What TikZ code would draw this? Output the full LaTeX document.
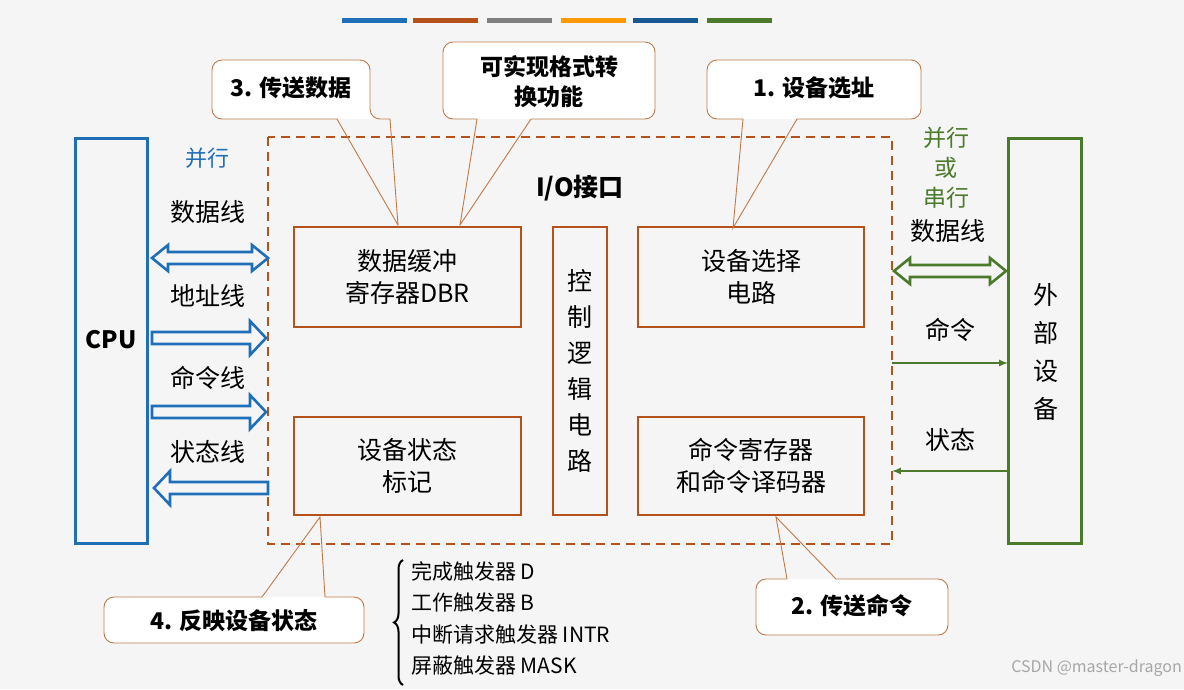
\documentclass[tikz,border=0pt]{standalone}
\usepackage{fontspec}
\setmainfont{Noto Sans CJK SC}
\usetikzlibrary{decorations.pathreplacing}
\definecolor{cblue}{HTML}{1F6FB8}
\definecolor{corange}{HTML}{B5521C}
\definecolor{cgreen}{HTML}{4A7A2A}
\definecolor{ctan}{HTML}{C07A4A}
\begin{document}
\begin{tikzpicture}[x=1pt,y=-1pt,
  box/.style={draw=corange,line width=2.5pt,fill=none},
  lbl/.style={font=\fontsize{25}{32}\selectfont,align=center,inner sep=0},
  clbl/.style={font=\fontsize{23}{27}\selectfont\bfseries,align=center,inner sep=0},
  call/.style={draw=ctan,line width=0.9pt,fill=white,rounded corners=10pt},
  tail/.style={draw=ctan,line width=0.9pt},
  fat/.style={line width=2.6pt,line join=miter}]
\useasboundingbox[fill=white!96!black] (0,0) rectangle (1184,689);
% colour bars
\foreach \a/\c in {342/cblue,413/corange,487/gray,561/orange!80!yellow,633/cblue!80!black,707/cgreen}
  \fill[\c] (\a,18) rectangle (\a+65,23);
% dashed interface
\draw[corange,line width=2pt,dash pattern=on 9pt off 6pt] (268,137) rectangle (892,544);
\node[lbl,font=\fontsize{25}{30}\selectfont\bfseries] (io) at (580,188) {I/O接口};
% CPU
\draw[cblue,line width=3pt] (75,138) rectangle (147,543);
\node[lbl,font=\fontsize{24}{28}\selectfont\bfseries] (cpu) at (111,340) {CPU};
\node[lbl,text=cblue,font=\fontsize{22}{26}\selectfont] (bx) at (207,158) {并行};
\node[lbl] (sjx) at (208,212) {数据线};
\node[lbl] (dzx) at (208,296) {地址线};
\node[lbl] (mlx) at (208,378) {命令线};
\node[lbl] (ztx) at (208,452) {状态线};
% fat arrows
\draw[fat,cblue] (152,258) -- (168,245) -- (168,252) -- (252,252) -- (252,245) -- (268,258) -- (252,271) -- (252,264) -- (168,264) -- (168,271) -- cycle;
\draw[fat,cblue] (152,332) -- (250,332) -- (250,321) -- (266,338) -- (250,355) -- (250,344) -- (152,344) -- cycle;
\draw[fat,cblue] (152,406) -- (250,406) -- (250,395) -- (266,412) -- (250,429) -- (250,418) -- (152,418) -- cycle;
\draw[fat,cblue] (268,482) -- (170,482) -- (170,471) -- (154,488) -- (170,505) -- (170,494) -- (268,494) -- cycle;
\draw[fat,cgreen] (894,271) -- (910,258) -- (910,265) -- (990,265) -- (990,258) -- (1006,271) -- (990,284) -- (990,277) -- (910,277) -- (910,284) -- cycle;
% inner boxes
\draw[box] (294,227) rectangle (521,327);
\node[lbl] (dbr) at (407.5,277) {数据缓冲\\寄存器DBR};
\draw[box] (553,227) rectangle (607,515);
\node[lbl,font=\fontsize{25}{36}\selectfont] (ctl) at (580,371) {控\\制\\逻\\辑\\电\\路};
\draw[box] (638,227) rectangle (864,327);
\node[lbl] (sel) at (751,277) {设备选择\\电路};
\draw[box] (294,417) rectangle (521,515);
\node[lbl] (st) at (407.5,466) {设备状态\\标记};
\draw[box] (638,417) rectangle (864,515);
\node[lbl] (cmd) at (751,466) {命令寄存器\\和命令译码器};
% external device
\draw[cgreen,line width=3pt] (1008,138) rectangle (1081,543);
\node[lbl,font=\fontsize{25}{38}\selectfont] (ext) at (1046,352) {外\\部\\设\\备};
\node[lbl,text=cgreen,font=\fontsize{23}{30}\selectfont] (bc) at (946,168) {并行\\或\\串行};
\node[lbl] (sjx2) at (948,231) {数据线};
\node[lbl] (ml) at (950,330) {命令};
\node[lbl] (zt) at (950,440) {状态};
\coordinate (a1) at (892,363); \coordinate (a2) at (1008,363);
\coordinate (b1) at (1008,471); \coordinate (b2) at (892,471);
\draw[cgreen,line width=2pt,-latex] (a1) -- (a2);
\draw[cgreen,line width=2pt,-latex] (b1) -- (b2);
% callouts
\draw[call] (337,119) -- (212,119) -- (212,60) -- (370,60) -- (370,119) -- (390,119);
\draw[tail] (337,119) -- (398,225) -- (390,119);
\node[clbl] (c3) at (291,88) {3. 传送数据};
\draw[call] (477,119) -- (443,119) -- (443,42) -- (655,42) -- (655,119) -- (531,119);
\draw[tail] (477,119) -- (460,225) -- (531,119);
\node[clbl,font=\fontsize{23}{30}\selectfont\bfseries] (cf) at (549,82) {可实现格式转\\换功能};
\draw[call] (743,119) -- (707,119) -- (707,60) -- (921,60) -- (921,119) -- (797,119);
\draw[tail] (743,119) -- (733,228) -- (797,119);
\node[clbl] (c1) at (814,88) {1. 设备选址};
\draw[call] (262,597) -- (104,597) -- (104,643) -- (364,643) -- (364,597) -- (325,597);
\draw[tail] (262,597) -- (320,517) -- (325,597);
\node[clbl] (c4) at (234,621) {4. 反映设备状态};
\draw[call] (787,579) -- (756,579) -- (756,635) -- (948,635) -- (948,579) -- (836,579);
\draw[tail] (787,579) -- (776,517) -- (836,579);
\node[clbl] (c2) at (852,606) {2. 传送命令};
% brace list
\draw[line width=2pt,decorate,decoration={brace,amplitude=9pt}] (403,685) -- (403,560);
\node[font=\fontsize{21}{31.5}\selectfont,align=left,anchor=north west,inner sep=0] (lst) at (411,561) {完成触发器 D\\工作触发器 B\\中断请求触发器 INTR\\屏蔽触发器 MASK};
\node[font=\fontsize{16}{18}\selectfont,text=gray!70,anchor=east,inner sep=0] (wm) at (1182,668) {CSDN @master-dragon};
\end{tikzpicture}
\end{document}
